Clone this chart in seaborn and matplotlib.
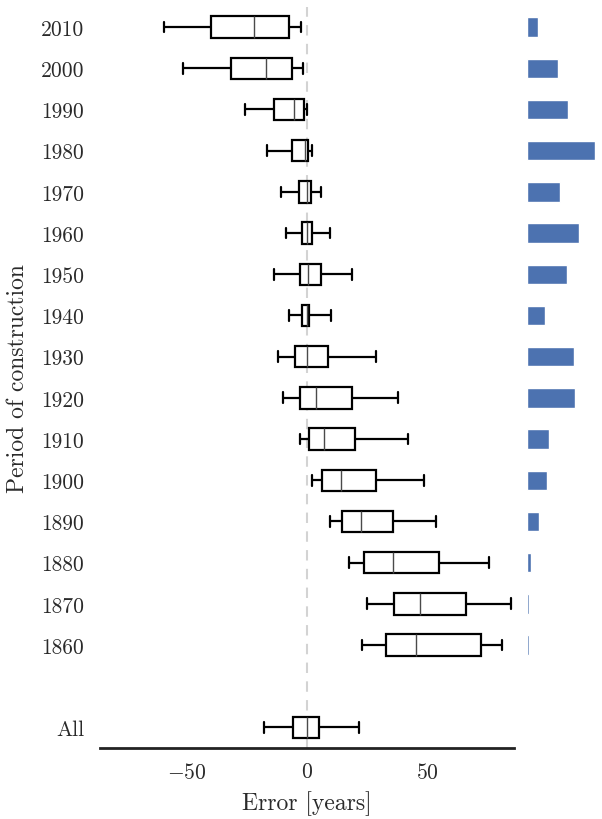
import numpy as np
import pandas as pd
import matplotlib
matplotlib.use("Agg")
import matplotlib.pyplot as plt
import seaborn as sns

# ---- data ----
periods = ["2010", "2000", "1990", "1980", "1970", "1960", "1950", "1940",
           "1930", "1920", "1910", "1900", "1890", "1880", "1870", "1860"]
# five-number summaries: [whisker low, q1, median, q3, whisker high]
whis_lo = [-59.5, -51.6, -25.9, -16.5, -10.7, -8.9, -13.7, -7.6,
           -11.9, -10.1, -2.9, 1.9, 9.5, 17.6, 25.0, 22.9]
q1 = [-39.7, -31.6, -13.7, -6.1, -3.2, -2.0, -2.9, -2.1,
      -4.9, -2.9, 0.7, 6.3, 14.6, 23.7, 36.2, 33.0]
median = [-22.0, -17.1, -5.2, -1.0, 0.1, -0.2, 0.4, -0.2,
          0.1, 3.7, 7.1, 14.2, 22.4, 35.6, 46.9, 45.2]
q3 = [-7.6, -6.4, -1.3, 0.5, 1.6, 1.9, 5.9, 0.9,
      8.7, 18.6, 19.8, 28.5, 35.8, 54.7, 66.1, 72.3]
whis_hi = [-2.4, -1.8, 0.1, 2.1, 5.9, 9.6, 18.8, 9.8,
           28.8, 37.6, 42.0, 48.8, 53.5, 75.8, 84.6, 80.9]
all_label = "All"
all_summary = [-17.9, -6.0, 0.0, 4.8, 21.4]
# share of buildings per period (%)
share = [2.4, 6.9, 9.1, 15.1, 7.3, 11.6, 8.9, 4.0,
         10.5, 10.7, 4.9, 4.4, 2.7, 0.9, 0.55, 0.35]

# ---- build long table ----
order = periods + [" "] + [all_label]
rows = []
for p, a, b, c, d, e in zip(periods, whis_lo, q1, median, q3, whis_hi):
    for v in (a, b, c, d, e):
        rows.append((p, v))
for v in all_summary:
    rows.append((all_label, v))
df = pd.DataFrame(rows, columns=["period", "error"])
bars = pd.DataFrame({"period": periods, "share": share})

sns.set_style("white")
plt.rcParams["font.family"] = ["cmr10", "DejaVu Serif"]
plt.rcParams["mathtext.fontset"] = "cm"
plt.rcParams["axes.formatter.use_mathtext"] = True
plt.rcParams["axes.unicode_minus"] = True
plt.rcParams["text.color"] = "#2a2a2a"
plt.rcParams["xtick.color"] = "#2a2a2a"
plt.rcParams["ytick.color"] = "#2a2a2a"
plt.rcParams["axes.labelcolor"] = "#2a2a2a"

fig = plt.figure(figsize=(6.02, 8.2), dpi=100)
ax = fig.add_axes([100 / 602, 1 - 749 / 820, 414 / 602, 741.5 / 820])
axb = fig.add_axes([527 / 602, 1 - 749 / 820, 68 / 602, 741.5 / 820])

lw = 1.6
ax.axvline(0, color="#d3d3d3", ls=(0, (5, 4)), lw=1.5, zorder=0)
sns.boxplot(data=df, x="error", y="period", order=order, orient="h",
            whis=(0, 100), width=0.52, fill=True, color="white",
            linecolor="black", linewidth=lw, showfliers=False,
            boxprops=dict(facecolor="white", edgecolor="black", linewidth=lw),
            whiskerprops=dict(color="black", linewidth=lw),
            capprops=dict(color="black", linewidth=lw),
            medianprops=dict(color="#4a4a4a", linewidth=1.0),
            ax=ax)
ax.set_xlim(-86, 86)
ax.set_ylim(17.5, -0.5)
ax.set_xticks([-50, 0, 50])
ax.set_xlabel("Error [years]", fontsize=17, labelpad=6)
ax.set_ylabel("Period of construction", fontsize=17, labelpad=8)
ax.tick_params(axis="y", length=0, pad=11.5, labelsize=15.5)
ax.tick_params(axis="x", length=0, pad=10, labelsize=15.5)
for s in ["top", "right", "left"]:
    ax.spines[s].set_visible(False)
ax.spines["bottom"].set_color("#222222")
ax.spines["bottom"].set_linewidth(2.0)

sns.barplot(data=bars, x="share", y="period", order=order, orient="h",
            color="#4c72b0", saturation=1, width=0.47, ax=axb)
axb.set_xlim(0, max(share))
axb.set_ylim(17.5, -0.5)
axb.set_axis_off()

fig.savefig("out.png", dpi=100)
